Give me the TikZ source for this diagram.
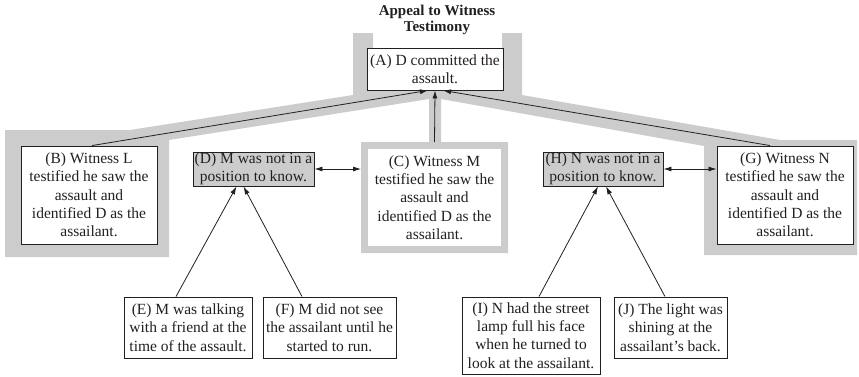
\documentclass[tikz,border=0pt]{standalone}
\usepackage{fontspec}
\setmainfont{Liberation Serif}
\usetikzlibrary{arrows.meta}
\definecolor{bandgray}{gray}{0.80}
\definecolor{objgray}{gray}{0.80}
\definecolor{ink}{RGB}{35,31,32}
\tikzset{
  box/.style={draw=ink, line width=0.9pt, fill=white, inner sep=0pt, align=center,
    text=ink, font=\fontsize{15.5}{18.3}\selectfont},
  objbox/.style={box, fill=objgray},
  link/.style={draw=ink, line width=0.8pt, -{Latex[length=8pt,width=5pt]}},
  twoway/.style={draw=ink, line width=0.8pt, {Latex[length=8pt,width=5pt]}-{Latex[length=8pt,width=5pt]}},
}
\begin{document}
\begin{tikzpicture}[x=1pt,y=-1pt]
\useasboundingbox (0,0) rectangle (859,376);

% grey bands behind the main argument
\fill[bandgray] (353,33) -- (373,33) -- (373,60) -- (502,60) -- (502,33) -- (522,33)
  -- (522,95) -- (780,140) -- (857,140) -- (857,255) -- (704,255) -- (704,146)
  -- (441,99) -- (441,142) -- (508,142) -- (508,253) -- (361,253) -- (361,142)
  -- (429,142) -- (429,99) -- (169,140) -- (169,257) -- (5,257) -- (5,130)
  -- (130,130) -- (353,95) -- cycle;

% title
\node[font=\bfseries\fontsize{15}{15.5}\selectfont, align=center, text=ink] (title) at (437,20)
  {Appeal to Witness\\Testimony};

% claim and witnesses
\node[box, minimum width=136pt, minimum height=42pt] (A) at (435,69)
  {(A) D committed the\\assault.};
\node[box, minimum width=136pt, minimum height=98pt] (B) at (89,195)
  {(B) Witness L\\testified he saw the\\assault and\\identified D as the\\assailant.};
\node[box, draw=none, minimum width=133pt, minimum height=97pt] (C) at (434.5,197.5)
  {(C) Witness M\\testified he saw the\\assault and\\identified D as the\\assailant.};
\node[box, minimum width=136pt, minimum height=98pt] (G) at (785,195)
  {(G) Witness N\\testified he saw the\\assault and\\identified D as the\\assailant.};

% objections
\node[objbox, minimum width=121pt, minimum height=34pt] (D) at (253.5,169)
  {(D) M was not in a\\position to know.};
\node[objbox, minimum width=120pt, minimum height=34pt] (H) at (603,169)
  {(H) N was not in a\\position to know.};

% supporting reasons
\node[box, minimum width=128pt, minimum height=61pt] (E) at (188,327.5)
  {(E) M was talking\\with a friend at the\\time of the assault.};
\node[box, minimum width=133pt, minimum height=61pt] (F) at (329.5,327.5)
  {(F) M did not see\\the assailant until he\\started to run.};
\node[box, minimum width=138pt, minimum height=77pt] (I) at (531,335.5)
  {(I) N had the street\\lamp full his face\\when he turned to\\look at the assailant.};
\node[box, minimum width=113pt, minimum height=61pt] (J) at (670.5,327.5)
  {(J) The light was\\shining at the\\assailant’s back.};

% connectors
\draw[link] ([xshift=3pt]B.north) -- ([xshift=-7pt]A.south);
\draw[link] (C.north |- 0,142) -- (A.south);
\draw[link] ([xshift=-15pt]G.north) -- ([xshift=8pt]A.south);
\draw[twoway] (D.east) -- (D.east -| 361,0);
\draw[twoway] (H.east) -- (H.east -| G.west);
\draw[link] ([xshift=-12pt]E.north) -- ([xshift=-17pt]D.south);
\draw[link] ([xshift=-27.5pt]F.north) -- ([xshift=-10pt]D.south);
\draw[link] ([xshift=8pt]I.north) -- ([xshift=-5pt]H.south);
\draw[link] ([xshift=-5.5pt]J.north) -- ([xshift=3pt]H.south);
\end{tikzpicture}
\end{document}
